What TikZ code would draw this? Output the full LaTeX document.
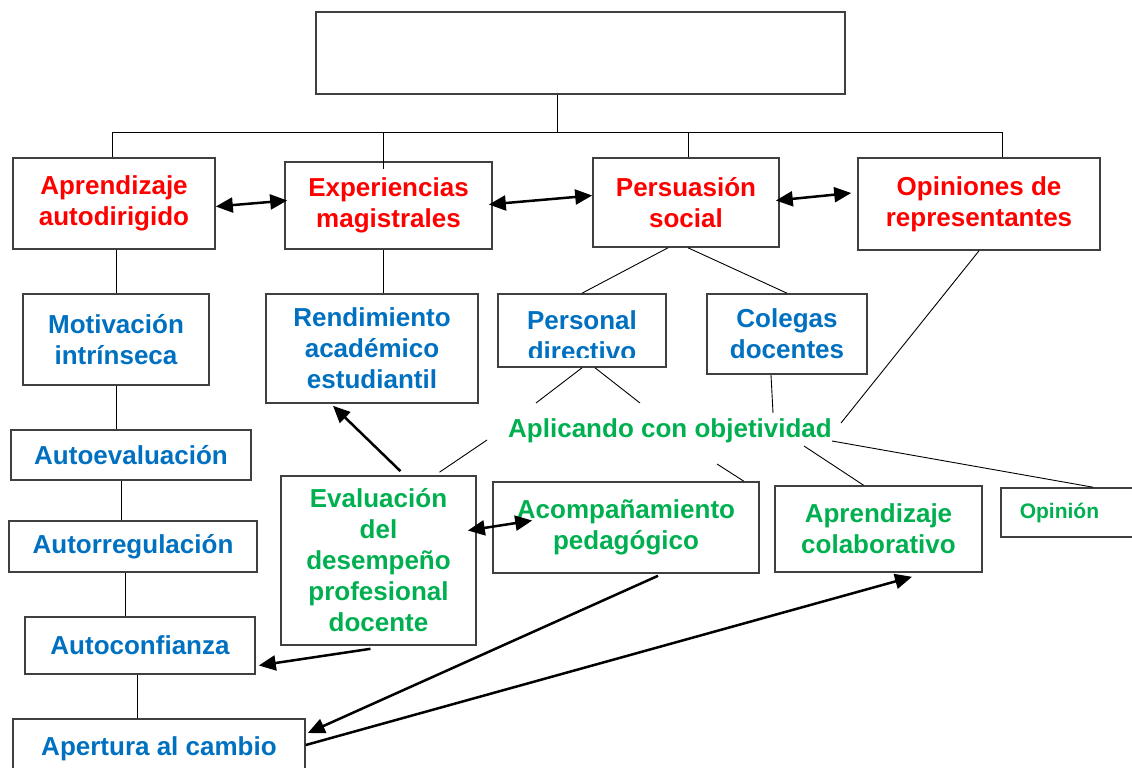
\documentclass[tikz,border=0pt]{standalone}
\usepackage{fontspec}
\setmainfont{Liberation Sans}
\usetikzlibrary{arrows.meta,calc}
\definecolor{cred}{HTML}{FF0000}
\definecolor{cblue}{HTML}{0070C0}
\definecolor{cgreen}{HTML}{00B050}
\definecolor{edge}{HTML}{404040}
\tikzset{
  lbl/.style={font=\fontsize{26}{31}\selectfont\bfseries, align=center, inner sep=0pt},
  box/.style={lbl, draw=edge, line width=1.6pt, fill=white},
  redbox/.style={box, text=cred},
  bluebox/.style={box, text=cblue},
  greenbox/.style={box, text=cgreen},
  conn/.style={draw=black, line width=0.9pt},
  tip/.style={Triangle[length=17pt,width=15pt]},
  arr/.style={draw=black, line width=2.5pt, -{Triangle[length=17pt,width=15pt]}},
  darr/.style={draw=black, line width=2.5pt, {Triangle[length=17pt,width=15pt]}-{Triangle[length=17pt,width=15pt]}}
}
\begin{document}
\begin{tikzpicture}[x=1pt,y=-1pt]
\clip (0,0) rectangle (1132,768);
\fill[white] (0,0) rectangle (1132,768);

% empty title box
\node[box, minimum width=529, minimum height=82] (top) at (580.5,53) {};

% first level
\node[redbox, minimum width=202, minimum height=91] (apr) at (114,203.5) {Aprendizaje\\autodirigido};
\node[redbox, minimum width=207, minimum height=87] (exp) at (388.5,205.5) {Experiencias\\magistrales};
\node[redbox, minimum width=186, minimum height=89] (pers) at (686,202.5) {Persuasión\\social};
\node[redbox, minimum width=242, minimum height=92] (opi) at (979,204) {Opiniones de\\representantes};

% second level
\node[bluebox, minimum width=186, minimum height=91] (mot) at (116,339.5) {Motivación\\intrínseca};
\node[bluebox, minimum width=212, minimum height=109] (rend) at (372,348.5) {Rendimiento\\académico\\estudiantil};
\node[box, minimum width=168, minimum height=73] (pdir) at (582,330.5) {};
\begin{scope}
  \clip (498,294) rectangle (666,357);
  \node[lbl, text=cblue] (pdirtext) at (582,336) {Personal\\directivo};
\end{scope}
\node[bluebox, minimum width=160, minimum height=80] (col) at (787,334) {Colegas\\docentes};

% left column
\node[bluebox, minimum width=240, minimum height=50] (autoe) at (131,455) {Autoevaluación};
\node[bluebox, minimum width=248, minimum height=51] (autor) at (133,546.5) {Autorregulación};
\node[bluebox, minimum width=230, minimum height=57] (autoc) at (140,645.5) {Autoconfianza};
\node[bluebox, minimum width=292, minimum height=60] (apert) at (159,749) {Apertura al cambio};

% green level
\node[lbl, text=cgreen] (aplic) at (670,431) {Aplicando con objetividad};
\node[greenbox, minimum width=195, minimum height=169] (eval) at (378.5,560.5) {Evaluación\\del\\desempeño\\profesional\\docente};
\node[greenbox, minimum width=266, minimum height=91] (acomp) at (626,527.5) {Acompañamiento\\pedagógico};
\node[greenbox, minimum width=207, minimum height=86] (colab) at (878.5,529) {Aprendizaje\\colaborativo};
\node[greenbox, anchor=west, font=\fontsize{21}{25}\selectfont\bfseries, align=left,
      text width=120pt, inner xsep=19pt, minimum height=49] (opin) at (1000,512.5) {Opinión};

% tree bus
\coordinate (hub) at (557,132);
\coordinate (busL) at (112,132);
\coordinate (busR) at (1002,132);
\coordinate (d2) at (383,132);
\coordinate (d3) at (688,132);
\draw[conn] (top.south -| hub) -- (hub);
\draw[conn] (busL) -- (busR);
\draw[conn] (busL) -- (busL |- apr.north);
\draw[conn] (d2) -- ($(d2 |- exp.north)+(0,8)$);
\draw[conn] (d3) -- (d3 |- pers.north);
\draw[conn] (busR) -- (busR |- opi.north);

% first to second level
\draw[conn] (mot.north |- apr.south) -- (mot.north);
\draw[conn] (d2 |- exp.south) -- (d2 |- rend.north);
\draw[conn] ($(pers.south)+(-18,0)$) -- (pdir.north);
\draw[conn] ($(pers.south)+(2,0)$) -- (col.north);

% left column chain
\draw[conn] (mot.south) -- (mot.south |- autoe.north);
\draw[conn] ($(autoe.south)+(-10,0)$) -- ($(autor.north)+(-12,0)$);
\draw[conn] ($(autor.south)+(-8,0)$) -- ($(autoc.north)+(-15,0)$);
\draw[conn] ($(autoc.south)+(-3,0)$) -- ($(apert.north)+(-22,0)$);

% lines around the central label
\coordinate (a1) at (536,403);
\coordinate (a2) at (640,403);
\coordinate (a3) at (773,413);
\coordinate (a4) at (841,423);
\coordinate (a5) at (832,441);
\coordinate (a6) at (804,446);
\coordinate (a7) at (717,464);
\coordinate (a8) at (487,440);
\draw[conn] (pdir.south) -- (a1);
\draw[conn] ($(pdir.south)+(13,0)$) -- (a2);
\draw[conn] ($(col.south)+(-16,0)$) -- (a3);
\draw[conn] (opi.south) -- (a4);
\draw[conn] (a5) -- ($(opin.north west)+(93,0)$);
\draw[conn] (a6) -- ($(colab.north)+(-15,0)$);
\draw[conn] (a7) -- ($(acomp.north east)+(-16,0)$);
\draw[conn] (a8) -- ($(eval.north)+(61,-3)$);

% thick arrows
\draw[darr] ($(apr.east)+(0,3)$) -- ($(exp.west)+(3,-5)$);
\draw[darr] ($(exp.east)+(-4,-1)$) -- ($(pers.west)+(0,-7)$);
\draw[darr] ($(pers.east)+(-4,-2)$) -- ($(opi.west)+(-6,-11)$);
\draw[darr] ($(eval.east)+(-9,-30)$) -- ($(acomp.west)+(40,-7)$);
\draw[arr] ($(eval.north)+(22,-4)$) -- ($(rend.south)+(-39,2)$);
\draw[arr] ($(eval.south)+(-8,3)$) -- ($(autoc.east)+(3,20)$);
\draw[arr] ($(acomp.south)+(32,2)$) -- ($(apert.east)+(2,-16)$);
\draw[arr] ($(apert.east)+(0,-4)$) -- ($(colab.south)+(33.5,4)$);
\end{tikzpicture}
\end{document}
